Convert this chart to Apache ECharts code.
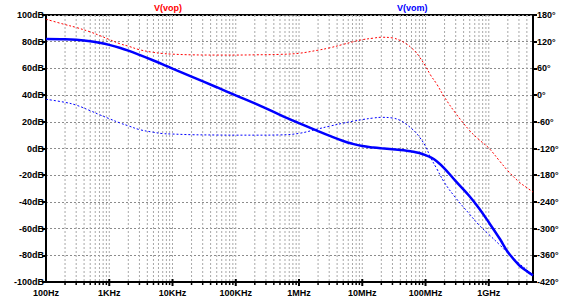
<!DOCTYPE html>
<html><head><meta charset="utf-8">
<script src="https://cdn.jsdelivr.net/npm/echarts@6/dist/echarts.min.js"></script>
<style>html,body{margin:0;padding:0;background:#fff}#c{width:575px;height:297px}</style>
</head><body><div id="c"></div>
<script>
// Frequencies (Hz) at which values were read
const freqs = [100,200,300,500,700,1e3,1.5e3,2e3,3e3,5e3,7e3,1e4,2e4,5e4,1e5,2e5,5e5,1e6,2e6,3e6,5e6,7e6,1e7,1.5e7,2e7,3e7,4e7,5e7,6e7,7e7,8e7,1e8,1.2e8,1.5e8,2e8,3e8,5e8,7e8,1e9,1.5e9,2e9,3e9,4e9,5e9];
// Magnitude (dB), V(vom) (V(vop) lies underneath)
const magDb = [82.0,81.8,81.4,80.4,79.2,77.6,75.3,73.3,70.1,65.9,63.0,59.8,53.8,45.9,39.8,33.8,25.2,19.0,13.0,9.6,5.6,3.5,1.8,0.7,0.1,-0.6,-1.1,-1.6,-2.2,-2.8,-3.4,-5.0,-6.6,-9.5,-15.0,-24.5,-36.0,-44.8,-55.3,-67.8,-77.5,-87.3,-92.0,-95.0];
// Phase (deg) of V(vom)
const phaseVom = [-9.4,-16.3,-22.5,-35,-44,-53,-63,-69,-77.5,-83.5,-86.5,-87.5,-89,-89.7,-90,-90,-89.5,-86,-76,-70,-63,-59,-55,-51.5,-50,-51.5,-57,-66,-75,-84,-94,-115,-140,-165,-197,-231,-268,-292,-313,-337,-355,-378,-393,-405];
// Phase (deg) of V(vop)
const phaseVop = [170.5,158.5,152,142,134,125,115,110,102,96,93.5,92,90.5,90,90,90.5,91.5,94,101,106,114,119.5,124.5,128,130,128.5,122.5,115,106,97,86,65,45,25,-5,-41,-80,-100,-119,-149,-170,-195,-208,-218];
// Tick labels
const xTickLabels = ['100Hz','1KHz','10KHz','100KHz','1MHz','10MHz','100MHz','1GHz'];
const dbTickLabels = ['-100dB','-80dB','-60dB','-40dB','-20dB','0dB','20dB','40dB','60dB','80dB','100dB'];
const degTickLabels = ['-420°','-360°','-300°','-240°','-180°','-120°','-60°','0°','60°','120°','180°'];
const traceNames = ['V(vop)','V(vom)'];

const FMIN = 100, FMAX = 5e9;
const gridPositions = [];
for (let n = 2; n <= 9; n++) {
  for (let k = 1; k <= 9; k++) {
    const f = k * Math.pow(10, n);
    if (f > FMIN && f < FMAX) gridPositions.push([Math.log10(f), k === 1 ? 1 : 0]);
  }
}

const font = '"Liberation Sans", Arial, sans-serif';
const lbl = {color:'#000', fontFamily: font, fontWeight:'bold', fontSize: 9};
const toXY = arr => freqs.map((f,i) => [Math.log10(f), arr[i]]);

const chart = echarts.init(document.getElementById('c'), null, {renderer:'svg'});
chart.setOption({
  animation: false,
  backgroundColor: '#fff',
  grid: {left: 46, right: 42, top: 15, bottom: 15, show: true, borderColor:'#000', borderWidth: 2, backgroundColor:'transparent'},
  xAxis: {
    type:'value', min: 2, max: Math.log10(FMAX), interval: 1,
    axisLine:{onZero:false, lineStyle:{color:'#000', width:2}},
    axisTick:{show:false},
    splitLine:{show:false},
    axisLabel: Object.assign({}, lbl, {margin: 6, showMaxLabel: true,
      formatter: v => { const r = Math.round(v); return Math.abs(v - r) < 1e-6 ? (xTickLabels[r-2] || '') : ''; }})
  },
  yAxis: [{
    type:'value', min:-100, max:100, interval:20, position:'left',
    axisLine:{show:true, onZero:false, lineStyle:{color:'#000', width:2}},
    axisTick:{show:true, length:4, lineStyle:{color:'#000', width:2}},
    splitLine:{show:true, lineStyle:{color:'#8c8c8c', width:1, type:[2,2]}},
    axisLabel: Object.assign({}, lbl, {margin: 2, formatter: v => dbTickLabels[Math.round((v+100)/20)]})
  },{
    type:'value', min:-420, max:180, interval:60, position:'right',
    axisLine:{show:true, onZero:false, lineStyle:{color:'#000', width:2}},
    axisTick:{show:true, length:4, lineStyle:{color:'#000', width:2}},
    splitLine:{show:false},
    axisLabel: Object.assign({}, lbl, {margin: 4, formatter: v => degTickLabels[Math.round((v+420)/60)]})
  }],
  graphic: [
    {type:'text', left: 154, top: 3, style:{text: traceNames[0], fill:'#ff0000', font: 'bold 9px ' + font}},
    {type:'text', left: 397, top: 3, style:{text: traceNames[1], fill:'#0000ff', font: 'bold 9px ' + font}}
  ],
  series: [
    {
      type:'custom', z: 1, silent: true, clip: false,
      data: gridPositions,
      encode: {x: 0, y: 1},
      renderItem: (params, api) => {
        const x = api.value(0), major = api.value(1) === 1;
        const t = api.coord([x, 100]);
        const b = api.coord([x, -100]);
        return {type:'group', children:[
          {type:'line', shape:{x1:t[0], y1:t[1], x2:b[0], y2:b[1]}, style:{stroke:'#a8a8a8', lineWidth:1, lineDash:[2,2]}},
          {type:'line', shape:{x1:b[0], y1:b[1] - (major ? 3 : 0), x2:b[0], y2:b[1] + (major ? 4 : 3)}, style:{stroke:'#000', lineWidth: major ? 2 : 1.5}}
        ]};
      }
    },
    {name:'V(vop) phase', type:'line', yAxisIndex:1, data: toXY(phaseVop), showSymbol:false, smooth:0.4, z:3,
      lineStyle:{color:'#ff0000', width:1, type:[2,2]}},
    {name:'V(vom) phase', type:'line', yAxisIndex:1, data: toXY(phaseVom), showSymbol:false, smooth:0.4, z:3,
      lineStyle:{color:'#0000ff', width:1, type:[2,2]}},
    {name:'V(vom) mag', type:'line', yAxisIndex:0, data: toXY(magDb), showSymbol:false, smooth:0.4, z:4,
      lineStyle:{color:'#0000ff', width:2.5}}
  ]
});
</script></body></html>
